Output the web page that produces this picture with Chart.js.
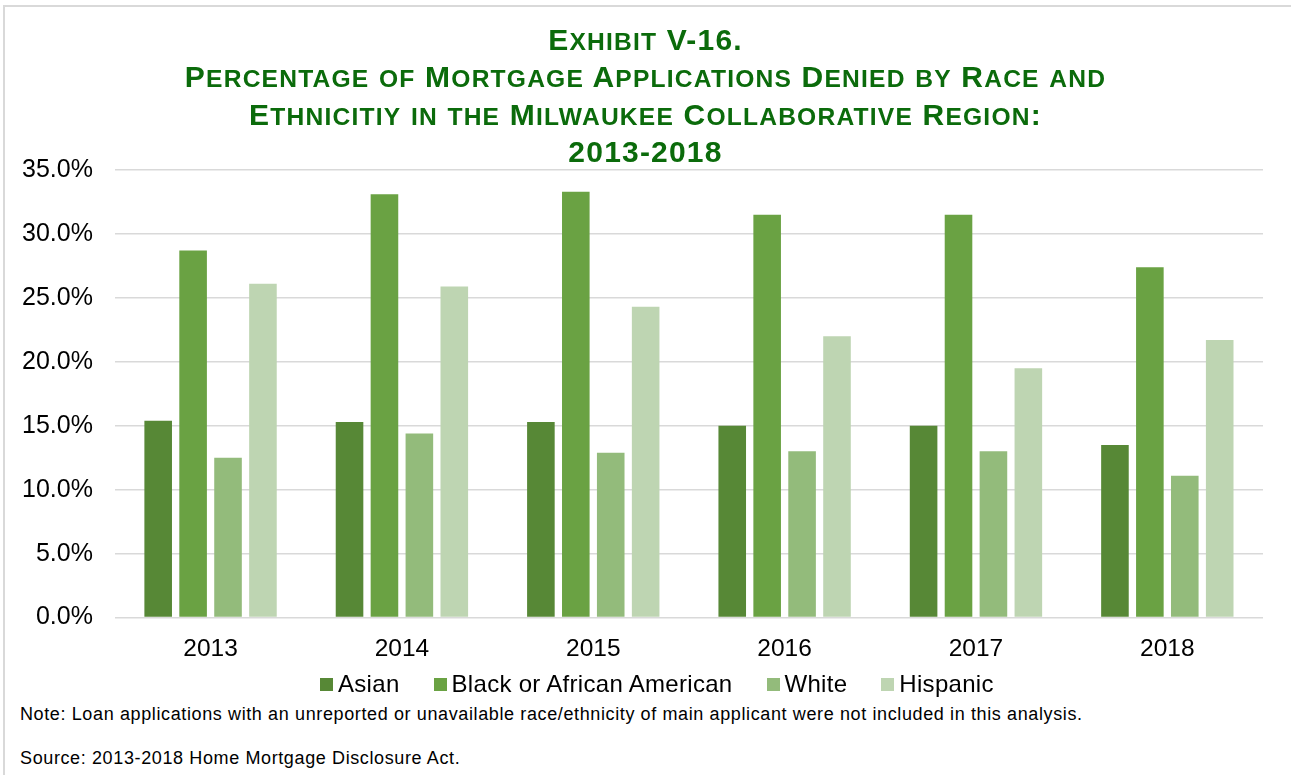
<!DOCTYPE html>
<html>
<head>
<meta charset="utf-8">
<title>Mortgage Applications Denied by Race and Ethnicity</title>
<script src="https://cdn.jsdelivr.net/npm/chart.js@4.4.0/dist/chart.umd.min.js"></script>
<style>
  html, body { margin: 0; padding: 0; background: #fff; }
  body { width: 1291px; height: 775px; position: relative; overflow: hidden; font-family: "Liberation Sans", Arial, sans-serif; }
  .frame { position: absolute; left: 3px; top: 5px; width: 1300px; height: 800px; border-left: 2px solid #d9d9d9; border-top: 2px solid #d9d9d9; }
  .chart-title { position: absolute; left: 0; top: 21px; width: 1291px; text-align: center; font-weight: bold; font-size: 30px; line-height: 37.3px; letter-spacing: 1.2px; color: #0b6b0b; z-index: 2; }
  .chart-title .sc { font-size: 0.82em; line-height: 1; }
  .chart-wrap { position: absolute; left: 0; top: 0; width: 1291px; height: 691px; }
  #legend { position: absolute; left: 320px; top: 670px; height: 28px; display: flex; align-items: center; font-size: 24px; letter-spacing: 0.3px; color: #000; z-index: 2; }
  #legend .item { display: flex; align-items: center; margin-right: 34px; }
  #legend .box { width: 13px; height: 13px; margin-right: 5px; }
  .note { position: absolute; left: 20px; font-size: 18px; letter-spacing: 0.62px; color: #000; white-space: nowrap; }
</style>
</head>
<body>
<div class="frame"></div>
<div class="chart-title" id="title"></div>
<div class="chart-wrap"><canvas id="denialChart"></canvas></div>
<div id="legend"></div>
<div class="note" style="top: 704px;">Note: Loan applications with an unreported or unavailable race/ethnicity of main applicant were not included in this analysis.</div>
<div class="note" style="top: 748px;">Source: 2013-2018 Home Mortgage Disclosure Act.</div>

<script>
// denial rates (%) by year
const years = ['2013', '2014', '2015', '2016', '2017', '2018'];
const asian = [15.4, 15.3, 15.3, 15.0, 15.0, 13.5];
const black = [28.7, 33.1, 33.3, 31.5, 31.5, 27.4];
const white = [12.5, 14.4, 12.9, 13.0, 13.0, 11.1];
const hispanic = [26.1, 25.9, 24.3, 22.0, 19.5, 21.7];
const yTicks = [0, 5, 10, 15, 20, 25, 30, 35];

const titleLines = [
    'Exhibit V-16.',
    'Percentage of Mortgage Applications Denied by Race and',
    'Ethnicitiy in the Milwaukee Collaborative Region:',
    '2013-2018'
];

const groups = [
    { label: 'Asian', data: asian, color: '#578836' },
    { label: 'Black or African American', data: black, color: '#6aa243' },
    { label: 'White', data: white, color: '#93bb7b' },
    { label: 'Hispanic', data: hispanic, color: '#bed5b2' }
];

// small caps title: lowercase letters become smaller capitals
const titleEl = document.getElementById('title');
titleLines.forEach(function(line, i) {
    if (i > 0) titleEl.appendChild(document.createElement('br'));
    let run = '';
    let small = false;
    const flush = function() {
        if (!run) return;
        if (small) {
            const s = document.createElement('span');
            s.className = 'sc';
            s.textContent = run.toUpperCase();
            titleEl.appendChild(s);
        } else {
            titleEl.appendChild(document.createTextNode(run));
        }
        run = '';
    };
    for (const ch of line) {
        const isLower = ch !== ch.toUpperCase();
        if (isLower !== small) { flush(); small = isLower; }
        run += ch;
    }
    flush();
});

const ctx = document.getElementById('denialChart').getContext('2d');
const chart = new Chart(ctx, {
    type: 'bar',
    data: {
        labels: years,
        datasets: groups.map(function(g) {
            return {
                label: g.label,
                data: g.data,
                backgroundColor: g.color,
                borderWidth: 0,
                categoryPercentage: 0.73,
                barPercentage: 0.79
            };
        })
    },
    options: {
        responsive: true,
        maintainAspectRatio: false,
        animation: false,
        layout: { padding: { top: 170, left: 0, right: 28, bottom: 10 } },
        plugins: {
            legend: { display: false },
            tooltip: { enabled: false }
        },
        scales: {
            x: {
                grid: { display: false, drawTicks: false },
                border: { display: false },
                ticks: { color: '#000', padding: 17, font: { family: '"Liberation Sans", Arial', size: 24.5 } }
            },
            y: {
                min: yTicks[0],
                max: yTicks[yTicks.length - 1],
                afterBuildTicks: function(axis) {
                    axis.ticks = yTicks.map(function(v) { return { value: v }; });
                },
                grid: { color: '#d9d9d9', lineWidth: 1.5, drawTicks: false },
                border: { display: false },
                ticks: {
                    color: '#000',
                    padding: 22,
                    font: { family: '"Liberation Sans", Arial', size: 25 },
                    callback: function(value) { return value.toFixed(1) + '%'; }
                }
            }
        }
    }
});

// legend built from the datasets
const legendEl = document.getElementById('legend');
chart.data.datasets.forEach(function(ds) {
    const item = document.createElement('div');
    item.className = 'item';
    const box = document.createElement('span');
    box.className = 'box';
    box.style.background = ds.backgroundColor;
    const text = document.createElement('span');
    text.textContent = ds.label;
    item.appendChild(box);
    item.appendChild(text);
    legendEl.appendChild(item);
});
</script>
</body>
</html>
